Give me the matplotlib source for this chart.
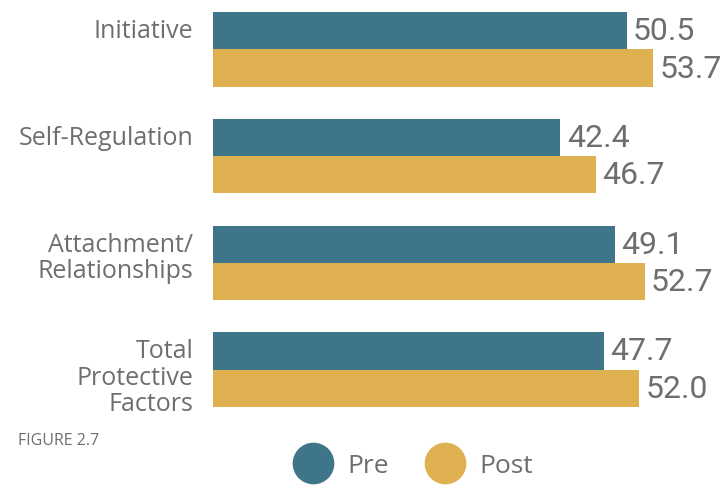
import matplotlib.pyplot as plt
import numpy as np
from matplotlib.lines import Line2D

categories = ['Initiative', 'Self-Regulation', 'Attachment/\nRelationships', 'Total\nProtective\nFactors']
pre = [50.5, 42.4, 49.1, 47.7]
post = [53.7, 46.7, 52.7, 52.0]

teal = '#3E7588'
gold = '#DFB050'
grey = '#6D6E71'

fig = plt.figure(figsize=(7.21, 4.89), dpi=100)
ax = fig.add_axes([213 / 721, 1 - 408 / 489, 508 / 721, 395 / 489])

y = np.arange(len(categories))
h = 0.35
b1 = ax.barh(y - h / 2, pre, height=h, color=teal)
b2 = ax.barh(y + h / 2, post, height=h, color=gold)

for bars in (b1, b2):
    for bar in bars:
        v = bar.get_width()
        ax.annotate(f'{v:.1f}', (v, bar.get_y() + bar.get_height() / 2),
                    xytext=(4.5, 0), textcoords='offset points',
                    ha='left', va='center', fontsize=23, color=grey,
                    family='Roboto')

# category labels: first line level with the Pre bar
trans = ax.get_yaxis_transform()
for i, lab in enumerate(categories):
    for k, line in enumerate(lab.split('\n')):
        ax.text(-0.039, i - h / 2 + k * 0.245, line, transform=trans,
                ha='right', va='center', fontsize=18, color=grey,
                family='Open Sans')

ax.set_xlim(0, 62)
ax.set_ylim(3.35, -0.35)
ax.set_yticks([])
ax.set_xticks([])
for s in ax.spines.values():
    s.set_visible(False)

handles = [Line2D([], [], marker='o', ls='', markersize=29, color=teal, label='Pre'),
           Line2D([], [], marker='o', ls='', markersize=29, color=gold, label='Post')]
fig.legend(handles=handles, loc='center', bbox_to_anchor=(0.573, 1 - 467 / 489), ncol=2,
           frameon=False, handlelength=1.5, handletextpad=0.55, columnspacing=1.4,
           prop={'family': 'Open Sans', 'size': 19}, labelcolor=grey)

fig.text(18 / 721, 1 - 441 / 489, 'FIGURE 2.7', fontsize=11.5, color=grey,
         family='Open Sans', va='center')

fig.savefig('out.png', dpi=100)
